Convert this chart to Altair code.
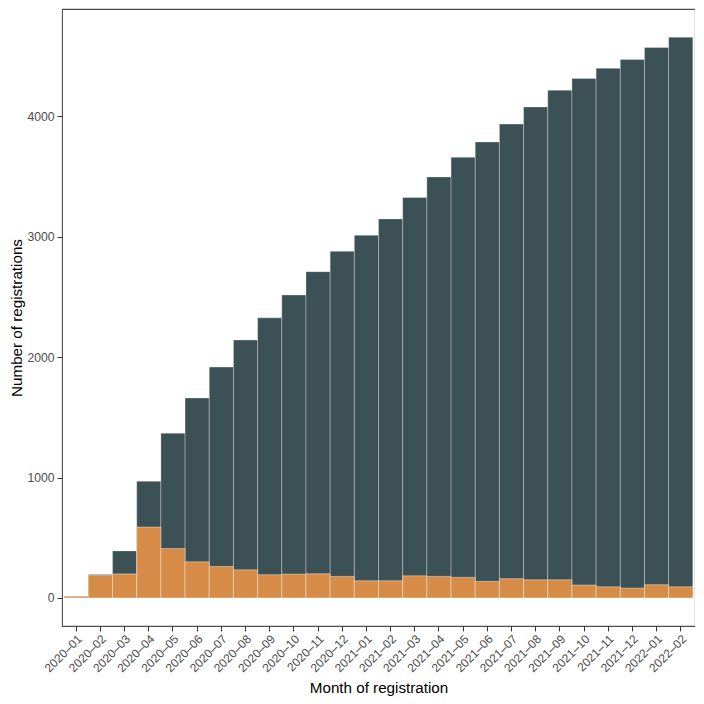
import altair as alt
import pandas as pd

months = ["2020\u201301", "2020\u201302", "2020\u201303", "2020\u201304", "2020\u201305", "2020\u201306",
          "2020\u201307", "2020\u201308", "2020\u201309", "2020\u201310", "2020\u201311", "2020\u201312",
          "2021\u201301", "2021\u201302", "2021\u201303", "2021\u201304", "2021\u201305", "2021\u201306",
          "2021\u201307", "2021\u201308", "2021\u201309", "2021\u201310", "2021\u201311", "2021\u201312",
          "2022\u201301", "2022\u201302"]
cumulative = [13, 195, 391, 969, 1369, 1661, 1918, 2143, 2327, 2517, 2711, 2880, 3013,
              3149, 3327, 3498, 3661, 3788, 3937, 4079, 4219, 4316, 4400, 4473, 4573, 4659]
monthly = [13, 188, 200, 589, 410, 300, 262, 234, 193, 198, 201, 179, 143,
           143, 184, 179, 171, 138, 160, 151, 151, 107, 93, 82, 110, 93]

df = pd.DataFrame({"month": months, "cumulative": cumulative, "monthly": monthly})

FONT = "Liberation Sans"

x_enc = alt.X("month:N", sort=months,
              scale=alt.Scale(paddingInner=0, paddingOuter=0.09),
              axis=alt.Axis(title="Month of registration", labelAngle=-45,
                            labelAlign="right", labelBaseline="top", labelFontSize=12,
                            labelPadding=2, titleY=66, titleBaseline="alphabetic"))
y_scale = alt.Scale(domain=[-233, 4893], nice=False, zero=False)
y_axis = alt.Axis(title="Number of registrations", values=[0, 1000, 2000, 3000, 4000],
                  format="d", labelFontSize=12.2,
                  labelPadding=3, titleX=-41, titleY=308.5, titleBaseline="alphabetic",
                  titleAlign="center", titleAngle=270)

base = alt.Chart(df)
cum = base.mark_bar(color="#3c5156", stroke="#ffffff", strokeWidth=0.5, strokeOpacity=0.6).encode(
    x=x_enc,
    y=alt.Y("cumulative:Q", scale=y_scale, axis=y_axis),
)
mon = base.mark_bar(color="#d68c46", stroke="#ffffff", strokeWidth=0.5, strokeOpacity=0.8).encode(
    x=alt.X("month:N", sort=months),
    y=alt.Y("monthly:Q"),
)

chart = alt.layer(cum, mon).properties(
    width=633, height=617,
    autosize=alt.AutoSizeParams(type="none"),
    padding={"left": 54, "top": 1, "right": 0, "bottom": 70},
).configure_view(
    stroke="#4d4d4d", strokeWidth=1.1
).configure_axis(
    grid=False, domain=False, ticks=True, tickColor="#333333", tickSize=5, tickWidth=1,
    labelFont=FONT, labelColor="#4d4d4d",
    titleFont=FONT, titleFontSize=15.2, titleColor="#000000", titleFontWeight="normal",
)

chart.save("out.html", embed_options={"renderer": "svg", "actions": False})
